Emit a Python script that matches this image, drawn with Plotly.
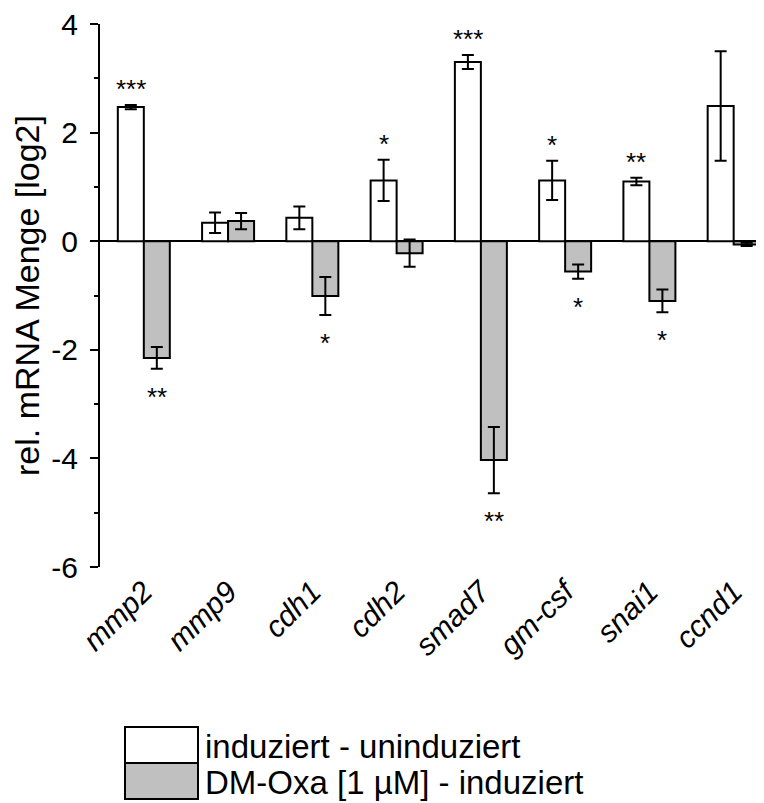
import plotly.graph_objects as go

# ---- data ----
genes = ["mmp2", "mmp9", "cdh1", "cdh2", "smad7", "gm-csf", "snai1", "ccnd1"]
ind_vals = [2.47, 0.34, 0.43, 1.12, 3.30, 1.12, 1.10, 2.49]
ind_err = [0.04, 0.19, 0.21, 0.38, 0.13, 0.36, 0.07, 1.01]
dm_vals = [-2.15, 0.37, -1.01, -0.22, -4.03, -0.56, -1.10, -0.06]
dm_err = [0.20, 0.15, 0.35, 0.25, 0.61, 0.13, 0.21, 0.03]
ind_stars = ["***", "", "", "*", "***", "*", "**", ""]
dm_stars = ["**", "", "*", "", "**", "*", "*", ""]
series_names = ["induziert - uninduziert", "DM-Oxa [1 µM] - induziert"]
y_ticks = [-6, -4, -2, 0, 2, 4]
y_ticktext = ["-6", "-4", "-2", "0", "2", "4"]

FONT = "Liberation Sans, Arial, sans-serif"
OFF = 8  # page body margin
W, H = 764 - OFF, 803 - OFF
ML, MT = 100 - OFF, 24 - OFF
PW, PH = 664, 543
MR, MB = W - ML - PW, H - MT - PH
BARGAP = 0.383
XR = [-0.52, 7.36]

def px_x(px):
    return (px - 100) / PW

def px_y(py):
    return (567 - py) / PH

xi = list(range(len(genes)))
fig = go.Figure()
fig.add_trace(go.Bar(
    x=xi, y=ind_vals, name=series_names[0],
    marker=dict(color="white", line=dict(color="black", width=2)),
    error_y=dict(type="data", array=ind_err, color="black", thickness=2, width=6),
))
fig.add_trace(go.Bar(
    x=xi, y=dm_vals, name=series_names[1],
    marker=dict(color="#c0c0c0", line=dict(color="black", width=2)),
    error_y=dict(type="data", array=dm_err, color="black", thickness=2, width=6),
))

off = (1 - BARGAP) / 4
for i in xi:
    for vals, errs, stars, sgn in ((ind_vals, ind_err, ind_stars, -1), (dm_vals, dm_err, dm_stars, 1)):
        s = stars[i]
        if not s:
            continue
        v, e = vals[i], errs[i]
        if v >= 0:
            yy, ys = v + e, 16
        else:
            yy, ys = v - e, -28
        fig.add_annotation(x=i + sgn * off, y=yy, xref="x", yref="y", text=s,
                           showarrow=False, yanchor="middle", yshift=ys,
                           font=dict(family=FONT, size=26, color="black"))

# custom legend (large boxes)
legend_fills = ["white", "#c0c0c0"]
box_tops = [727, 763]
for k in range(2):
    fig.add_shape(type="rect", xref="paper", yref="paper",
                  x0=px_x(125), x1=px_x(198), y0=px_y(box_tops[k]), y1=px_y(box_tops[k] + 36),
                  fillcolor=legend_fills[k], line=dict(color="black", width=2))
    fig.add_annotation(xref="paper", yref="paper", x=px_x(203), y=px_y(box_tops[k] + 19),
                       text=series_names[k], showarrow=False, xanchor="left", yanchor="middle",
                       font=dict(family=FONT, size=33, color="black"))

fig.update_layout(
    width=W, height=H, margin=dict(l=ML, r=MR, t=MT, b=MB, autoexpand=False),
    paper_bgcolor="white", plot_bgcolor="white",
    barmode="group", bargap=BARGAP, bargroupgap=0,
    showlegend=False,
    font=dict(family=FONT, color="black"),
)
fig.update_xaxes(
    range=XR, tickmode="array", tickvals=xi, ticktext=genes, tickangle=-45,
    showline=False, showgrid=False, zeroline=False, ticks="",
    tickfont=dict(family=FONT, size=30, color="black", style="italic"),
)
fig.update_yaxes(
    range=[-6, 4], tickmode="array", tickvals=y_ticks, ticktext=y_ticktext,
    showline=True, linecolor="black", linewidth=2, showgrid=False,
    zeroline=True, zerolinecolor="black", zerolinewidth=2,
    ticks="outside", ticklen=8, tickwidth=2, tickcolor="black",
    ticklabelstandoff=6, ticklabeloverflow="allow",
    minor=dict(ticks="outside", ticklen=4, tickwidth=2, tickcolor="black", dtick=1, tick0=0),
    tickfont=dict(family=FONT, size=30, color="black"),
    title=dict(text="rel. mRNA Menge [log2]", font=dict(family=FONT, size=34, color="black"), standoff=6),
)

fig.write_html("out.html")
